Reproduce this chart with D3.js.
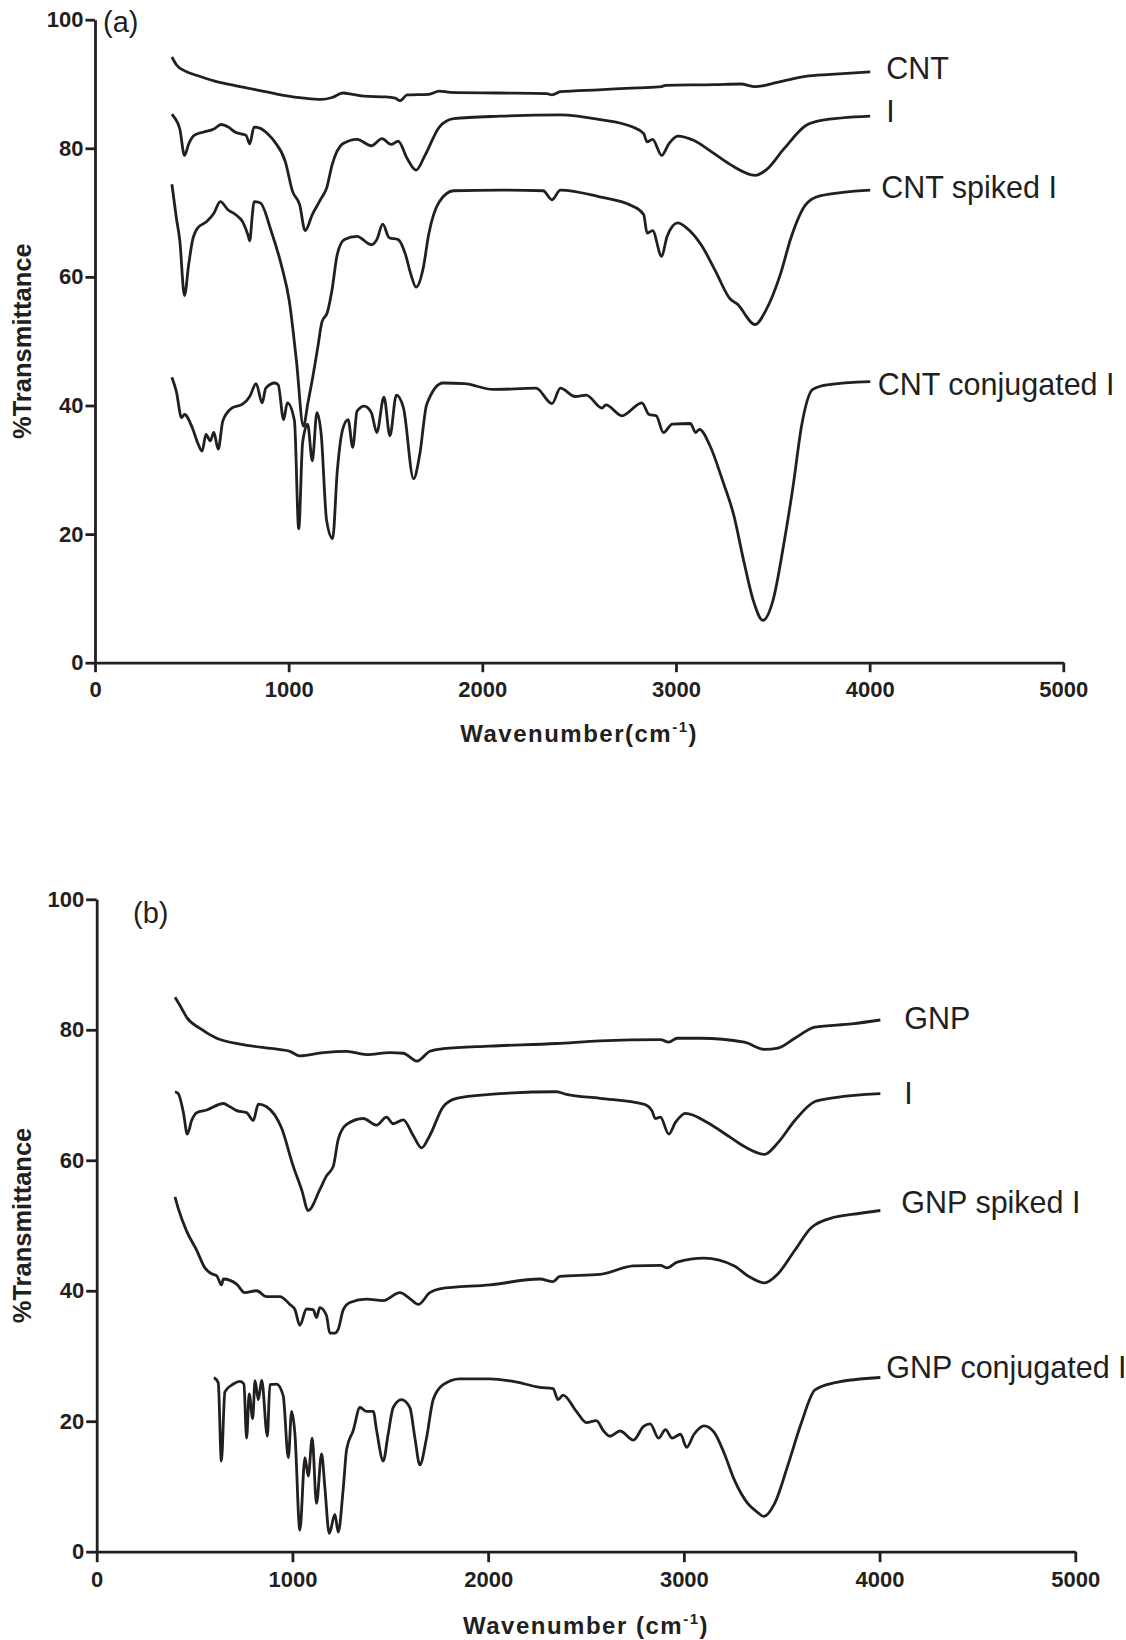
<!DOCTYPE html>
<html>
<head>
<meta charset="utf-8">
<script src="https://cdn.jsdelivr.net/npm/d3@7"></script>
<style>
  body { margin: 0; background: #fff; }
  svg { display: block; }
  text { font-family: "Liberation Sans", Arial, Helvetica, sans-serif; fill: #231f20; }
</style>
</head>
<body>
<svg width="1126" height="1640"></svg>
<script>
// tick values shared by both panels
const xTicks = [0, 1000, 2000, 3000, 4000, 5000];
const yTicks = [0, 20, 40, 60, 80, 100];

// panel (a) - [wavenumber, %T]
const cntA = [[397,94.2],[420,93.0],[466,92.0],[540,91.2],[614,90.5],[700,89.9],[799,89.3],[900,88.7],[983,88.2],[1080,87.8],[1168,87.6],[1224,87.9],[1279,88.6],[1330,88.4],[1390,88.1],[1501,88.0],[1550,87.8],[1575,87.4],[1612,88.3],[1723,88.4],[1778,88.9],[1834,88.7],[2092,88.6],[2333,88.5],[2360,88.3],[2403,88.8],[2600,89.1],[2800,89.4],[2926,89.6],[2944,89.8],[3200,89.9],[3334,90.0],[3409,89.6],[3446,89.7],[3500,90.1],[3557,90.5],[3669,91.2],[3800,91.5],[4003,91.9]];

const iA = [[397,85.3],[410,84.8],[438,83.0],[462,78.9],[484,80.7],[512,82.0],[558,82.5],[614,83.0],[651,83.7],[688,83.3],[725,82.5],[760,82.2],[780,82.0],[799,80.7],[821,83.3],[854,83.1],[890,82.3],[928,81.0],[983,77.9],[1020,73.3],[1057,71.2],[1085,67.2],[1122,69.7],[1168,72.2],[1196,73.8],[1224,77.4],[1279,80.7],[1353,81.4],[1427,80.4],[1482,81.5],[1529,80.6],[1566,81.1],[1612,78.4],[1658,76.6],[1704,78.9],[1778,83.3],[1852,84.6],[2092,85.0],[2403,85.2],[2600,84.5],[2777,83.3],[2833,82.3],[2851,81.0],[2879,81.4],[2926,78.9],[2963,80.7],[3009,81.9],[3093,81.2],[3186,79.4],[3279,77.5],[3409,75.8],[3464,76.6],[3557,79.9],[3669,83.5],[3743,84.3],[4003,85.0]];

const spikedA = [[397,74.4],[420,69.2],[438,65.6],[462,57.1],[484,62.0],[503,65.6],[530,67.6],[577,68.6],[614,69.9],[647,71.7],[688,70.4],[725,69.7],[762,68.6],[790,66.5],[799,65.6],[812,69.5],[821,71.7],[854,71.5],[910,67.1],[966,61.4],[1003,56.3],[1040,47.0],[1076,36.8],[1100,40.5],[1125,44.5],[1150,49.0],[1172,53.0],[1200,54.5],[1224,58.0],[1251,63.5],[1288,65.8],[1353,66.3],[1427,65.0],[1455,65.8],[1486,68.2],[1519,66.1],[1566,65.8],[1603,63.5],[1631,60.4],[1658,58.4],[1695,61.4],[1723,66.6],[1778,71.7],[1852,73.4],[2092,73.5],[2314,73.4],[2360,72.0],[2403,73.5],[2600,72.5],[2777,71.0],[2833,69.7],[2851,66.8],[2879,67.2],[2926,63.2],[2954,66.3],[3009,68.4],[3056,67.6],[3130,65.0],[3204,60.9],[3279,56.6],[3316,55.8],[3409,52.6],[3464,54.8],[3539,60.4],[3594,66.1],[3669,71.2],[3743,72.6],[4003,73.5]];

const conjA = [[397,44.4],[420,42.2],[447,38.1],[462,38.6],[503,36.5],[530,34.2],[553,32.9],[573,35.5],[595,34.5],[614,35.8],[636,33.2],[660,37.6],[706,39.6],[762,40.2],[799,41.4],[832,43.4],[863,40.4],[882,42.7],[928,43.5],[946,43.2],[974,37.8],[993,40.4],[1030,37.6],[1052,20.8],[1072,34.2],[1098,37.1],[1122,31.4],[1146,38.9],[1168,35.5],[1196,22.1],[1227,19.3],[1251,29.8],[1279,36.3],[1307,37.8],[1331,33.5],[1353,39.1],[1390,39.9],[1427,38.9],[1455,35.8],[1492,41.3],[1523,35.3],[1556,41.6],[1593,39.6],[1645,28.6],[1677,32.4],[1713,40.2],[1797,43.5],[1908,43.4],[2055,42.5],[2277,42.7],[2360,40.3],[2403,42.7],[2480,41.4],[2536,41.6],[2619,39.6],[2638,40.1],[2721,38.4],[2824,40.4],[2861,38.6],[2898,38.4],[2935,35.8],[2981,37.1],[3074,37.2],[3102,35.8],[3121,36.3],[3176,33.7],[3241,28.3],[3297,23.1],[3353,15.4],[3399,9.7],[3449,6.6],[3501,9.7],[3557,18.5],[3604,27.3],[3650,37.1],[3706,42.5],[3780,43.2],[4003,43.7]];

// panel (b)
const gnpB = [[400,85.0],[430,83.5],[460,81.9],[528,80.2],[613,78.7],[732,77.8],[902,77.1],[987,76.7],[1038,76.0],[1157,76.5],[1277,76.7],[1379,76.2],[1498,76.5],[1566,76.4],[1637,75.2],[1702,76.7],[1770,77.1],[2009,77.5],[2349,77.9],[2571,78.3],[2880,78.5],[2923,78.1],[2966,78.7],[3086,78.7],[3309,78.1],[3412,77.0],[3481,77.2],[3567,78.7],[3670,80.4],[3858,80.9],[4004,81.5]];

const iB = [[400,70.5],[417,70.2],[443,67.3],[463,64.0],[485,66.1],[511,67.3],[562,67.7],[647,68.7],[681,68.2],[715,67.6],[766,67.3],[800,66.1],[826,68.6],[868,68.2],[945,64.9],[1004,59.1],[1047,55.5],[1081,52.3],[1140,55.5],[1174,57.6],[1209,59.1],[1234,63.2],[1277,65.5],[1362,66.4],[1430,65.4],[1481,66.6],[1515,65.6],[1566,66.2],[1617,63.8],[1660,61.9],[1702,63.8],[1770,68.2],[1838,69.5],[2009,70.1],[2349,70.5],[2400,70.1],[2571,69.5],[2794,68.6],[2837,67.6],[2854,66.4],[2880,66.6],[2923,64.0],[2957,65.8],[3009,67.2],[3120,65.8],[3223,63.8],[3309,62.1],[3412,60.9],[3481,62.7],[3567,66.1],[3670,69.0],[3773,69.6],[4004,70.2]];

const spikedB = [[400,54.4],[417,52.6],[460,49.1],[511,46.2],[553,43.5],[587,42.6],[613,42.3],[638,40.9],[647,41.8],[715,41.0],[757,39.7],[817,40.0],[868,39.1],[936,39.1],[987,37.9],[1013,37.1],[1038,34.7],[1072,37.2],[1106,37.1],[1123,35.9],[1140,37.4],[1174,36.2],[1191,33.5],[1217,33.5],[1234,34.1],[1260,37.1],[1294,38.2],[1379,38.7],[1464,38.5],[1549,39.7],[1600,38.8],[1643,37.9],[1702,39.7],[1753,40.3],[2009,40.9],[2264,41.8],[2332,41.4],[2366,42.2],[2571,42.5],[2742,43.8],[2880,43.9],[2914,43.5],[2966,44.4],[3103,45.0],[3258,43.8],[3326,42.3],[3412,41.2],[3481,42.6],[3567,46.2],[3652,49.7],[3773,51.3],[3858,51.7],[4004,52.3]];

const conjB = [[599,26.7],[621,25.9],[637,13.9],[655,24.5],[698,25.7],[732,26.1],[752,25.7],[766,17.4],[779,24.2],[797,20.4],[809,26.2],[826,23.3],[843,26.3],[872,17.7],[885,25.6],[919,25.7],[953,23.9],[979,14.4],[996,21.5],[1013,18.0],[1038,3.3],[1064,14.4],[1081,11.6],[1101,17.4],[1123,7.4],[1149,15.0],[1166,9.8],[1188,2.8],[1217,5.7],[1234,3.0],[1260,9.8],[1277,15.7],[1311,18.6],[1345,22.1],[1379,21.5],[1413,21.5],[1430,18.6],[1464,13.9],[1489,18.0],[1515,22.1],[1557,23.3],[1600,22.1],[1626,17.4],[1651,13.3],[1685,17.4],[1719,23.3],[1770,25.6],[1855,26.5],[2009,26.5],[2128,26.1],[2264,25.2],[2332,25.0],[2357,23.3],[2383,24.0],[2451,21.5],[2502,19.8],[2553,20.1],[2590,18.5],[2622,17.7],[2674,18.5],[2742,17.1],[2794,19.2],[2828,19.6],[2871,17.4],[2906,18.7],[2940,17.4],[2983,18.0],[3014,16.0],[3052,18.0],[3103,19.3],[3155,18.3],[3206,15.1],[3258,11.0],[3326,7.4],[3378,6.0],[3409,5.4],[3464,7.4],[3532,13.3],[3601,19.8],[3670,24.8],[3773,25.9],[4004,26.7]];

const namesA = ["CNT", "I", "CNT spiked I", "CNT conjugated I"];
const namesB = ["GNP", "I", "GNP spiked I", "GNP conjugated I"];

// where each panel sits and how its labels are nudged off the line ends
const panels = [
  { tag: "(a)", series: [cntA, iA, spikedA, conjA], names: namesA,
    left: 95, right: 1063.3, top: 19.7, bottom: 662.7,
    tagPos: [103, 32], xTitle: "Wavenumber(cm", titleY: 742, tick: 9.5,
    shift: [[16, 7], [16, 5.5], [11, 8], [7.5, 13]] },
  { tag: "(b)", series: [gnpB, iB, spikedB, conjB], names: namesB,
    left: 96.7, right: 1075.3, top: 899.3, bottom: 1551.7,
    tagPos: [133, 923], xTitle: "Wavenumber (cm", titleY: 1634, tick: 10.5,
    shift: [[24, 9], [24, 10], [21, 3], [6, 0]] }
];

const svg = d3.select("svg");
const ink = "#231f20";

const line_gen = d3.line().curve(d3.curveMonotoneX);

panels.forEach(p => {
  const x = d3.scaleLinear().domain([0, 5000]).range([p.left, p.right]);
  const y = d3.scaleLinear().domain([0, 100]).range([p.bottom, p.top]);
  const g = svg.append("g");

  line_gen.x(d => x(d[0])).y(d => y(d[1]));

  g.selectAll("path.trace")
    .data(p.series)
    .join("path")
      .attr("class", "trace")
      .attr("fill", "none")
      .attr("stroke", ink)
      .attr("stroke-width", 2.8)
      .attr("stroke-linejoin", "round")
      .attr("d", line_gen);

  // series names at the right-hand ends
  g.selectAll("text.name")
    .data(p.series)
    .join("text")
      .attr("class", "name")
      .attr("x", (d, i) => x(d[d.length - 1][0]) + p.shift[i][0])
      .attr("y", (d, i) => y(d[d.length - 1][1]) + p.shift[i][1])
      .attr("font-size", 30.5)
      .text((d, i) => p.names[i]);

  const xAxis = g.append("g")
      .attr("transform", "translate(0," + p.bottom + ")")
      .call(d3.axisBottom(x).tickValues(xTicks).tickFormat(d3.format("d"))
        .tickSize(p.tick).tickSizeOuter(0).tickPadding(9));

  const yAxis = g.append("g")
      .attr("transform", "translate(" + p.left + ",0)")
      .call(d3.axisLeft(y).tickValues(yTicks).tickFormat(d3.format("d"))
        .tickSize(p.tick).tickSizeOuter(0).tickPadding(2));

  [xAxis, yAxis].forEach(a => {
    a.select(".domain").attr("stroke", ink).attr("stroke-width", 2.8);
    a.selectAll(".tick line").attr("stroke", ink).attr("stroke-width", 2.8);
    a.selectAll(".tick text")
      .attr("fill", ink)
      .attr("font-size", 22)
      .attr("font-weight", "bold")
      .attr("font-family", "'Liberation Sans', Arial, sans-serif");
  });

  g.append("text")
      .attr("x", p.tagPos[0])
      .attr("y", p.tagPos[1])
      .attr("font-size", 29)
      .text(p.tag);

  const xt = g.append("text")
      .attr("x", (p.left + p.right) / 2)
      .attr("y", p.titleY)
      .attr("text-anchor", "middle")
      .attr("font-size", 24)
      .attr("font-weight", "bold")
      .attr("letter-spacing", 1.5);
  xt.append("tspan").text(p.xTitle);
  xt.append("tspan").attr("dy", -10).attr("font-size", 15).text("-1");
  xt.append("tspan").attr("dy", 10).text(")");

  g.append("text")
      .attr("transform", "translate(31," + (p.top + p.bottom) / 2 + ") rotate(-90)")
      .attr("text-anchor", "middle")
      .attr("font-size", 25.5)
      .attr("font-weight", "bold")
      .text("%Transmittance");
});
</script>
</body>
</html>
